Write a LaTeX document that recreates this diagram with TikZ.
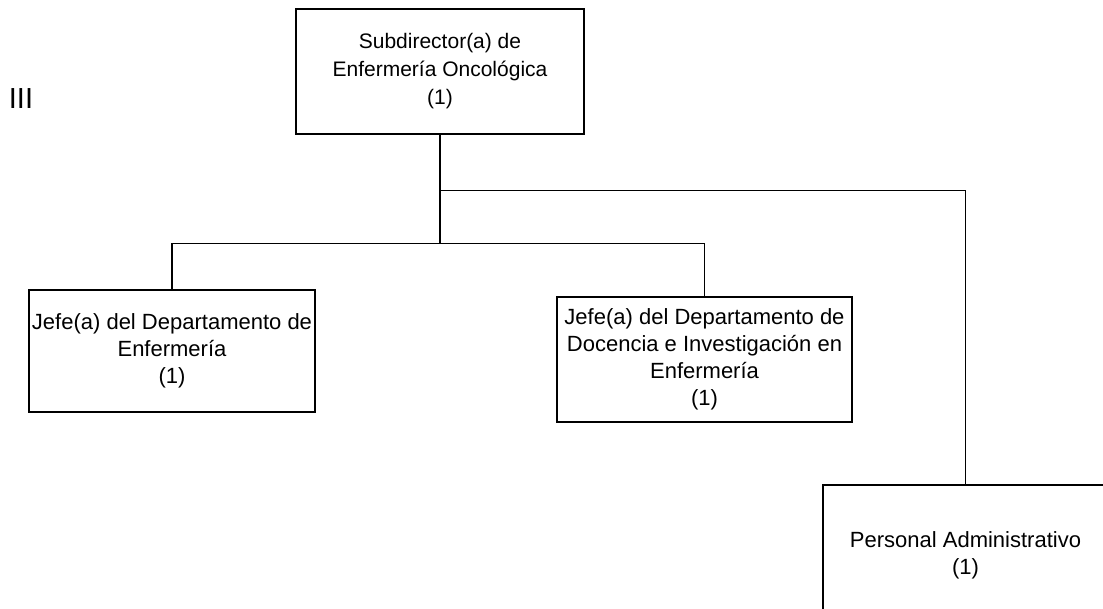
\documentclass[tikz,border=0pt]{standalone}
\usepackage{fontspec}
\setmainfont{Liberation Sans}
\usepackage{tikz}
\usetikzlibrary{positioning, calc}

\begin{document}
\begin{tikzpicture}[
      x=1pt, y=-1pt,
      box/.style={
        draw,
        line width=1.5pt,
        inner sep=0pt,
        align=center,
        font=\fontsize{22}{27}\selectfont
      },
      link/.style={
        line width=1.5pt
      }
    ]
    \useasboundingbox (0,0) rectangle (1103,609);
    \clip (0,0) rectangle (1103,609);

    \node[font=\fontsize{29}{30}\selectfont] (level) at (21,99) {III};

    \node[box, minimum width=288pt, minimum height=125pt,
          font=\fontsize{21}{28}\selectfont] (sub) at (440,71.5) {
      Subdirector(a) de\\
      Enfermería Oncológica\\
      (1)
    };

    \node[box, minimum width=286pt, minimum height=122pt] (jefeenf) at (172,351) {
      Jefe(a) del Departamento de\\
      Enfermería\\
      (1)
    };

    \node[box, minimum width=295pt, minimum height=125pt] (jefedoc) at (704.5,359.5) {
      Jefe(a) del Departamento de\\
      Docencia e Investigación en\\
      Enfermería\\
      (1)
    };

    \node[box, minimum width=285pt, minimum height=140pt] (admin) at (965.5,555) {
      Personal Administrativo\\
      (1)
    };

    \coordinate (branch) at ($(sub.south)+(0,56)$);
    \coordinate (split) at ($(sub.south)+(0,109)$);

    \draw[link] (sub.south) -- (split);
    \draw[link] (branch) -| (admin.north);
    \draw[link] (jefeenf.north) |- (split) -| (jefedoc.north);

\end{tikzpicture}
\end{document}
